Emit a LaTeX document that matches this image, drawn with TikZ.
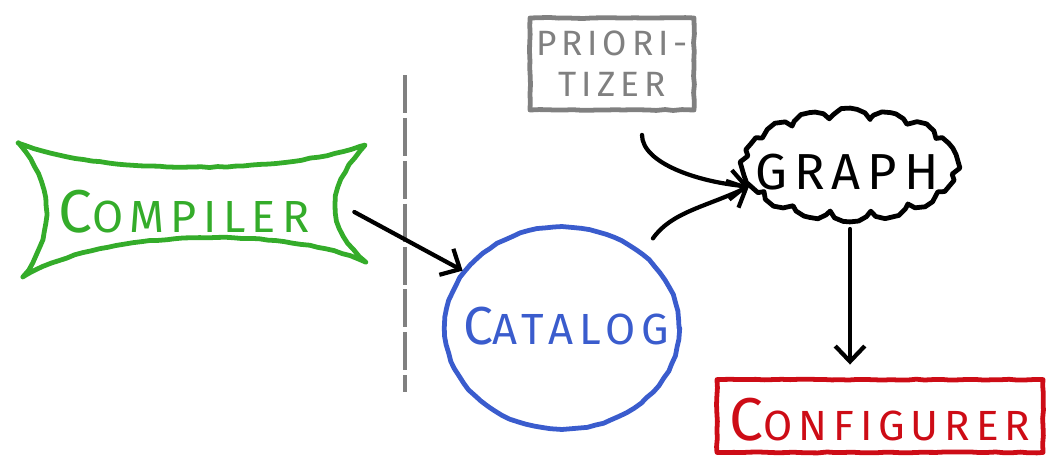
\documentclass[tikz,border=0pt]{standalone}
\usepackage{fontspec}
\newfontfamily\sketchfont[LetterSpace=14]{Fira Sans}
\usetikzlibrary{arrows.meta,shapes.geometric,shapes.symbols,decorations.pathmorphing}
\definecolor{compgreen}{RGB}{52,172,42}
\definecolor{catblue}{RGB}{58,92,205}
\definecolor{priogray}{RGB}{128,128,128}
\definecolor{confred}{RGB}{205,12,22}
\tikzset{
	sketch/.style={line width=3.4pt,line join=round,line cap=round,
		decorate,decoration={random steps,segment length=6pt,amplitude=0.35pt}},
	tag/.style={font=\sketchfont\fontsize{32}{32}\selectfont,inner sep=0pt},
	arrow/.style={line width=3pt,line cap=round,-{Straight Barb[length=11pt,width=21pt,line width=3pt]}}
}
\newcommand{\bigC}[1]{{\fontsize{#1}{#1}\selectfont C}}
\begin{document}
\begin{tikzpicture}[x=0.025cm,y=-0.025cm]
		\useasboundingbox (0,0) rectangle (1049,473);
		
		% compiler
		\node[tag,text=compgreen,minimum width=8.5cm] (compiler) at (184,212) {\bigC{43}OMPILER};
		\draw[sketch,compgreen] (18,143) .. controls (100,175) and (280,175) .. (365,145)
			.. controls (325,190) and (325,225) .. (366,262)
			.. controls (280,225) and (100,230) .. (23,277)
			.. controls (55,235) and (55,185) .. (18,143);
		
		% boundary
		\draw[priogray,line width=2.8pt,dash pattern=on 27pt off 3.5pt] (405,75) -- (405,392);
		
		% catalog
		\node[ellipse,draw=catblue,sketch,text=catblue,minimum width=5.85cm,minimum height=5.05cm,inner sep=0pt] (catalog) at (562,328) {};
		\node[tag,text=catblue,font=\sketchfont\fontsize{31}{31}\selectfont] at (566,326) {\bigC{38}ATALOG};
		
		% prioritizer
		\node[draw=priogray,sketch,text=priogray,minimum width=4.1cm,minimum height=2.3cm,align=center,
			font=\sketchfont\fontsize{25}{29}\selectfont,inner sep=0pt] (prior) at (612,64) {PRIORI-\\TIZER};
		
		% graph
		\node[cloud,cloud puffs=16,cloud puff arc=110,draw,sketch,minimum width=5.3cm,minimum height=2.8cm,
			inner sep=0pt] (graph) at (850,165) {};
		\node[tag,font=\sketchfont\fontsize{36}{36}\selectfont] at (847,172) {GRAPH};
		
		% configurer
		\node[draw=confred,sketch,text=confred,minimum width=8.15cm,minimum height=1.82cm,inner sep=0pt] (config) at (880,416) {};
		\node[tag,text=confred,font=\sketchfont\fontsize{30}{30}\selectfont] at (880,420) {\bigC{43}ONFIGURER};
		
		% connectors
		\draw[arrow] (compiler.east) -- (catalog.150);
		\draw[arrow,shorten <=16pt] ([xshift=0.75cm]prior.south) to[out=-90,in=175] (graph.192);
		\draw[arrow,shorten <=12pt] (catalog.43) to[out=55,in=205] (graph.192);
		\draw[arrow,shorten <=4pt,shorten >=9pt] (graph.south) -- (graph.south |- config.north);
	\end{tikzpicture}
\end{document}
